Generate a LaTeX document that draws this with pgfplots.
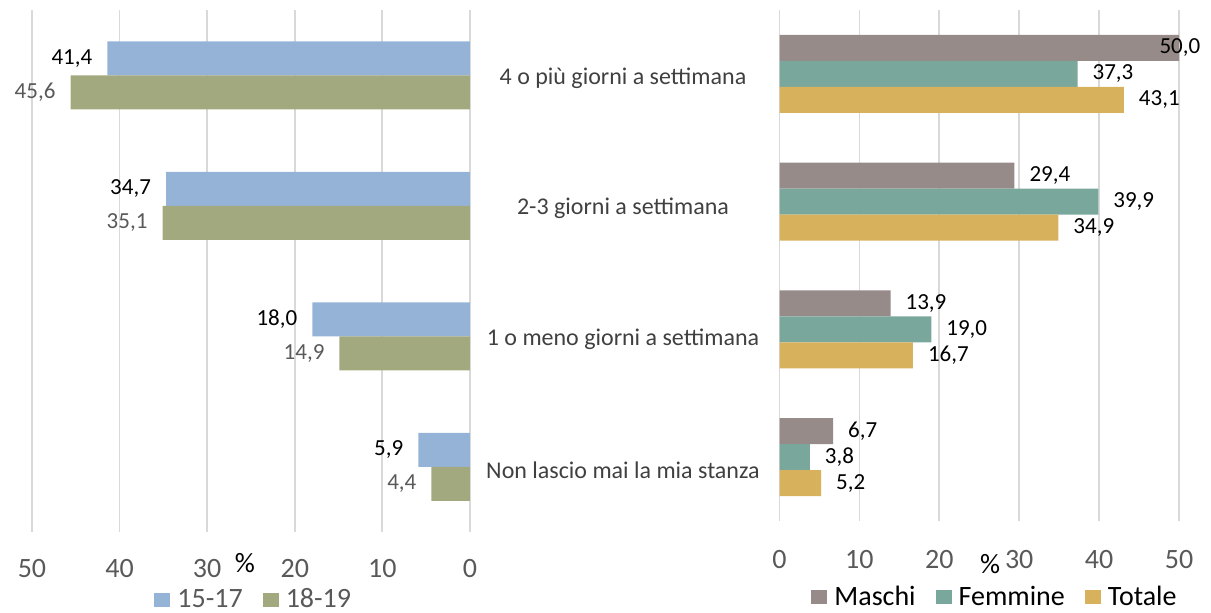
\documentclass[border=0pt]{standalone}
\usepackage{pgfplots}
\pgfplotsset{compat=1.18}
\usepackage{fontspec}
\setmainfont{Carlito}
\definecolor{cBlue}{HTML}{95B3D7}
\definecolor{cOlive}{HTML}{A3A97E}
\definecolor{cMas}{HTML}{968B89}
\definecolor{cFem}{HTML}{7AA79C}
\definecolor{cTot}{HTML}{D8B15C}
\definecolor{cGrid}{HTML}{D9D9D9}
\definecolor{cTxt}{HTML}{595959}
\definecolor{cCat}{HTML}{404040}
\begin{document}
\begin{tikzpicture}
\path[use as bounding box] (0,0) rectangle (605.5pt,306pt);
\pgfplotsset{
 common/.style={
  scale only axis, xbar, axis line style={draw=none}, major tick length=0pt,
  xmajorgrids, grid style={cGrid, line width=0.9pt},
  xmin=0, xtick={0,10,...,50},
  ymin=-0.5, ymax=3.5, y dir=reverse, ytick={0,1,2,3},
  /pgf/number format/assume math mode=true,
  xticklabel style={font=\fontsize{14}{16}\selectfont, text=cTxt, anchor=center},
  point meta=x,
  nodes near coords={\pgfmathprintnumber[fixed,fixed zerofill,precision=1,use comma]{\pgfplotspointmeta}},
  legend columns=-1,
  legend image code/.code={\fill[##1] (0pt,-3.5pt) rectangle (8pt,3.5pt);},
  legend style={draw=none, fill=none, font=\fontsize{14}{16}\selectfont,
    nodes={inner xsep=1pt},
    /tikz/every odd column/.append style={column sep=2.5pt},
    /tikz/every even column/.append style={column sep=9pt}},
 }
}
\begin{axis}[common, at={(0pt,40pt)}, anchor=south west, width=235pt, height=261pt,
 xmax=53.65, x dir=reverse,
 yticklabels={4 o più giorni a settimana, 2-3 giorni a settimana, 1 o meno giorni a settimana, Non lascio mai la mia stanza},
 yticklabel pos=right,
 yticklabel style={anchor=center, xshift=76.5pt, yshift=-1.5pt, font=\fontsize{12}{14}\selectfont, text=cCat},
 xticklabel style={yshift=-18pt},
 bar width=17pt,
 every node near coord/.append style={anchor=east, xshift=-4pt, font=\fontsize{11.5}{13}\selectfont},
 legend style={at={(0.54,-0.13)}, anchor=center, text=cTxt}]
\addplot[fill=cBlue, draw=none, bar shift=8.5pt, every node near coord/.append style={text=black}] coordinates {(41.4,0) (34.7,1) (18.0,2) (5.9,3)};
\addplot[fill=cOlive, draw=none, bar shift=-8.5pt, every node near coord/.append style={text=cTxt}] coordinates {(45.6,0) (35.1,1) (14.9,2) (4.4,3)};
\legend{15-17,18-19}
\end{axis}
\begin{axis}[common, at={(389.75pt,45.5pt)}, anchor=south west, width=215.75pt, height=255.5pt,
 xmax=54, yticklabels={},
 xticklabel style={yshift=-19.5pt},
 bar width=13pt,
 visualization depends on={rawx \as \rawx},
 every node near coord/.append style={anchor=west, text=black, font=\fontsize{11.5}{13}\selectfont, xshift={ifthenelse(\rawx>49,-13.3,4)*1pt}},
 legend style={at={(0.4994,-0.149)}, anchor=center, text=black}]
\addplot[fill=cMas, draw=none, bar shift=13pt] coordinates {(50.0,0) (29.4,1) (13.9,2) (6.7,3)};
\addplot[fill=cFem, draw=none, bar shift=0pt] coordinates {(37.3,0) (39.9,1) (19.0,2) (3.8,3)};
\addplot[fill=cTot, draw=none, bar shift=-13pt] coordinates {(43.1,0) (34.9,1) (16.7,2) (5.2,3)};
\legend{Maschi,Femmine,Totale}
\end{axis}
\node[font=\fontsize{14}{16}\selectfont, text=black] at (122.5pt,24.5pt) {\%};
\node[font=\fontsize{14}{16}\selectfont, text=black] at (495pt,24pt) {\%};
\end{tikzpicture}
\end{document}
